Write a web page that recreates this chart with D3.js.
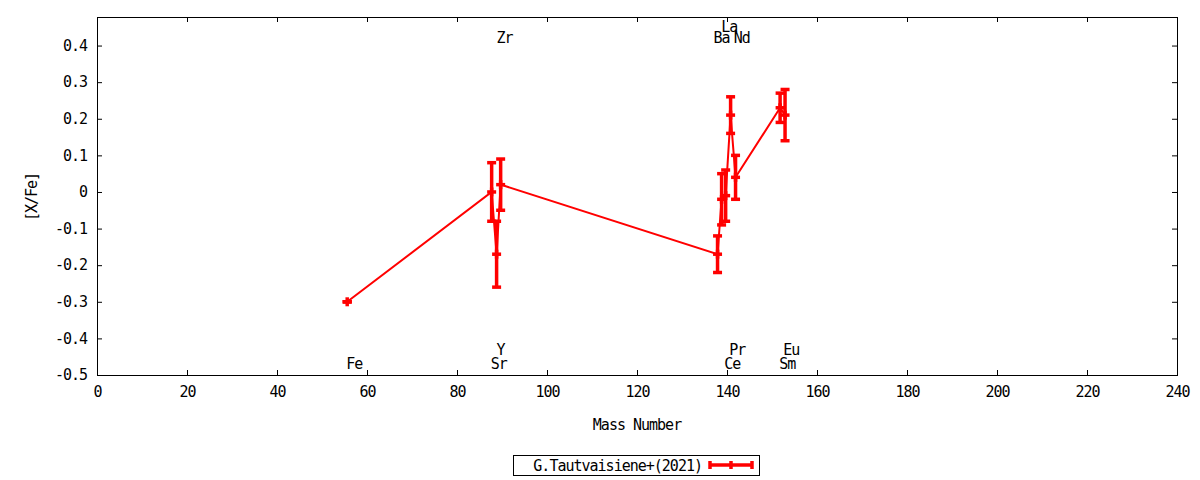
<!DOCTYPE html>
<html>
<head>
<meta charset="utf-8">
<script src="https://cdn.jsdelivr.net/npm/d3@7"></script>
<style>
  body { margin: 0; background: #fff; }
  text { font-family: "DejaVu Sans Mono", monospace; font-size: 15px; letter-spacing: -1px; fill: #000; }
</style>
</head>
<body>
<div id="chart"></div>
<script>
// values
var elements = ["Fe", "Sr", "Y", "Zr", "Ba", "La", "Ce", "Pr", "Nd", "Sm", "Eu"];
var mass     = [55.6, 87.7, 88.8, 89.7, 137.9, 138.8, 139.7, 140.8, 141.9, 151.8, 152.9];
var values   = [-0.30, 0.00, -0.17, 0.02, -0.17, -0.02, -0.01, 0.21, 0.04, 0.23, 0.21];
var errors   = [0.0, 0.08, 0.09, 0.07, 0.05, 0.07, 0.07, 0.05, 0.06, 0.04, 0.07];
// element name labels (x in mass units, y in [X/Fe] units)
var labelX   = [55.4, 87.5, 88.8, 88.8, 137.0, 138.7, 139.4, 140.5, 141.5, 151.6, 152.5];
var labelY   = [-0.47, -0.47, -0.43, 0.42, 0.42, 0.45, -0.47, -0.43, 0.42, -0.47, -0.43];

var xTicks = d3.range(0, 241, 20);
var yTicks = [-0.5, -0.4, -0.3, -0.2, -0.1, 0, 0.1, 0.2, 0.3, 0.4];
var legendLabel = "G.Tautvaisiene+(2021)";

var width = 1200, height = 480;
var plotL = 97, plotR = 1177, plotT = 17, plotB = 375;
var red = "#ff0000";

var svg = d3.select("#chart").append("svg")
    .attr("width", width)
    .attr("height", height);

var x = d3.scaleLinear().domain([0, 240]).range([plotL, plotR]);
var y = d3.scaleLinear().domain([-0.5, 0.478]).range([plotB, plotT]);

var fmtY = function (d) { return d === 0 ? "0" : d3.format(".1f")(d).replace("−", "-"); };

// axes with inward ticks, mirrored on top and right
svg.append("g").attr("transform", "translate(0," + plotB + ")")
    .call(d3.axisBottom(x).tickValues(xTicks).tickSizeInner(-5).tickSizeOuter(0).tickPadding(11));
svg.append("g").attr("transform", "translate(0," + plotT + ")")
    .call(d3.axisTop(x).tickValues(xTicks).tickSizeInner(-5).tickSizeOuter(0).tickFormat(""));
svg.append("g").attr("transform", "translate(" + plotL + ",0)")
    .call(d3.axisLeft(y).tickValues(yTicks).tickSizeInner(-5).tickSizeOuter(0).tickPadding(10).tickFormat(fmtY));
svg.append("g").attr("transform", "translate(" + plotR + ",0)")
    .call(d3.axisRight(y).tickValues(yTicks).tickSizeInner(-5).tickSizeOuter(0).tickFormat(""));

svg.selectAll(".domain").remove();
svg.selectAll(".tick line").attr("stroke", "#000");
svg.selectAll(".tick text")
    .style("font-size", "15px")
    .style("font-family", "'DejaVu Sans Mono', monospace")
    .style("letter-spacing", "-1px")
    .attr("fill", "#000");

svg.append("rect")
    .attr("x", plotL + 0.5).attr("y", plotT + 0.5)
    .attr("width", plotR - plotL).attr("height", plotB - plotT)
    .attr("fill", "none").attr("stroke", "#000").attr("stroke-width", 1);

// axis titles
svg.append("text")
    .attr("x", (plotL + plotR) / 2).attr("y", 430)
    .attr("text-anchor", "middle")
    .text("Mass Number");
svg.append("text")
    .attr("transform", "translate(37,197) rotate(-90)")
    .attr("text-anchor", "middle")
    .text("[X/Fe]");

var pts = elements.map(function (e, i) {
  return { el: e, m: mass[i], v: values[i], err: errors[i], lx: labelX[i], ly: labelY[i] };
});

// connecting line
var line = d3.line()
    .x(function (d) { return x(d.m); })
    .y(function (d) { return y(d.v); });
svg.append("path")
    .datum(pts)
    .attr("d", line)
    .attr("fill", "none")
    .attr("stroke", red)
    .attr("stroke-width", 2);

// error bars
var bars = svg.selectAll(".err").data(pts).enter().append("g").attr("class", "err");
bars.append("line")
    .attr("x1", function (d) { return x(d.m); })
    .attr("x2", function (d) { return x(d.m); })
    .attr("y1", function (d) { return y(d.v - d.err); })
    .attr("y2", function (d) { return y(d.v + d.err); })
    .attr("stroke", red).attr("stroke-width", 3.5);
[-1, 0, 1].forEach(function (k) {
  bars.append("line")
      .attr("x1", function (d) { return x(d.m) - 4.5; })
      .attr("x2", function (d) { return x(d.m) + 4.5; })
      .attr("y1", function (d) { return y(d.v + k * d.err); })
      .attr("y2", function (d) { return y(d.v + k * d.err); })
      .attr("stroke", red).attr("stroke-width", 3.5);
});
// point marker (+)
bars.append("line")
    .attr("x1", function (d) { return x(d.m); })
    .attr("x2", function (d) { return x(d.m); })
    .attr("y1", function (d) { return y(d.v) - 4.5; })
    .attr("y2", function (d) { return y(d.v) + 4.5; })
    .attr("stroke", red).attr("stroke-width", 3.5);

// element labels
svg.selectAll(".lab").data(pts).enter().append("text")
    .attr("class", "lab")
    .attr("x", function (d) { return x(d.lx); })
    .attr("y", function (d) { return y(d.ly); })
    .attr("dy", "0.35em")
    .text(function (d) { return d.el; });

// legend
var lg = svg.append("g");
lg.append("rect")
    .attr("x", 513.5).attr("y", 455.5).attr("width", 246).attr("height", 20)
    .attr("fill", "none").attr("stroke", "#000");
lg.append("text")
    .attr("x", 702).attr("y", 466).attr("dy", "0.35em")
    .attr("text-anchor", "end")
    .text(legendLabel);
lg.append("line").attr("x1", 710).attr("x2", 752).attr("y1", 465).attr("y2", 465)
    .attr("stroke", red).attr("stroke-width", 3.5);
[710, 731, 752].forEach(function (px) {
  lg.append("line").attr("x1", px).attr("x2", px).attr("y1", 461).attr("y2", 469)
      .attr("stroke", red).attr("stroke-width", 3.5);
});
</script>
</body>
</html>
